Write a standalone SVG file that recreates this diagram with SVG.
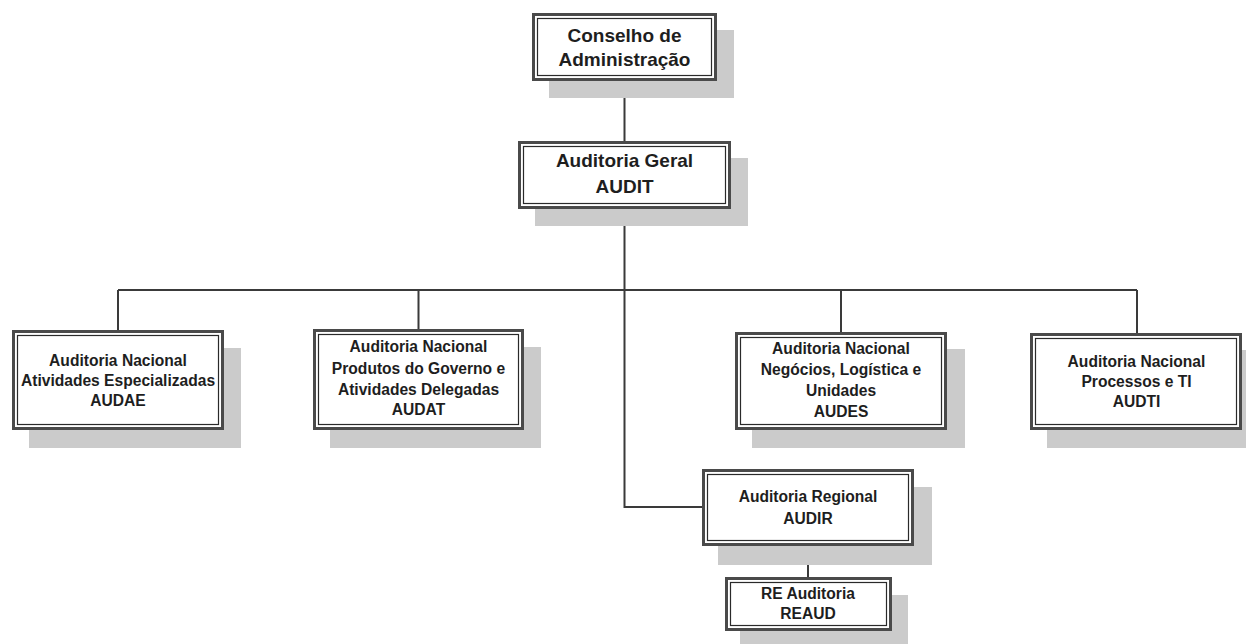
<svg xmlns="http://www.w3.org/2000/svg" width="1246" height="644" viewBox="0 0 1246 644">
<style>
.sh{fill:#cbcbcb}
.bx{fill:#fff;stroke:#4a4a4a;stroke-width:3}
.in{fill:none;stroke:#2a2a2a;stroke-width:1.2}
.t{font-family:"Liberation Sans",Arial,sans-serif;font-weight:bold;fill:#1e1e1e;text-anchor:middle}
.t19{font-size:19px}
.t16{font-size:15.6px}
.ln{fill:none;stroke:#3a3a3a;stroke-width:2}
</style>
<rect width="1246" height="644" fill="#fff"/>
<g id="connectors">
<path class="ln" d="M624.5 81V141M624.5 209V507H702M118 290H1137M118 290V330M418.5 290V329M841 290V332M1137 290V333M808 546V577"/>
</g>
<g id="conselho">
<rect class="sh" x="549" y="30" width="185" height="68"/>
<rect class="bx" x="533.5" y="14.5" width="182" height="65"/>
<rect class="in" x="537.5" y="18.5" width="174" height="57"/>
<text class="t t19" x="624.5"><tspan x="624.5" y="41.5">Conselho de</tspan><tspan x="624.5" y="65.5">Administração</tspan></text>
</g>
<g id="audit">
<rect class="sh" x="535" y="158" width="213" height="68"/>
<rect class="bx" x="519.5" y="142.5" width="210" height="65"/>
<rect class="in" x="523.5" y="146.5" width="202" height="57"/>
<text class="t t19"><tspan x="624.5" y="167">Auditoria Geral</tspan><tspan x="624.5" y="193">AUDIT</tspan></text>
</g>
<g id="audae">
<rect class="sh" x="29" y="348" width="212" height="100"/>
<rect class="bx" x="13.5" y="331.5" width="209" height="97"/>
<rect class="in" x="17.5" y="335.5" width="201" height="89"/>
<text class="t t16"><tspan x="118" y="365.5">Auditoria Nacional</tspan><tspan x="118" y="385.5">Atividades Especializadas</tspan><tspan x="118" y="405.5">AUDAE</tspan></text>
</g>
<g id="audat">
<rect class="sh" x="330" y="347" width="211" height="101"/>
<rect class="bx" x="314.5" y="330.5" width="208" height="98"/>
<rect class="in" x="318.5" y="334.5" width="200" height="90"/>
<text class="t t16"><tspan x="418.5" y="352">Auditoria Nacional</tspan><tspan x="418.5" y="373.5">Produtos do Governo e</tspan><tspan x="418.5" y="395">Atividades Delegadas</tspan><tspan x="418.5" y="415">AUDAT</tspan></text>
</g>
<g id="audes">
<rect class="sh" x="752" y="349" width="213" height="99"/>
<rect class="bx" x="736.5" y="333.5" width="209" height="95"/>
<rect class="in" x="740.5" y="337.5" width="201" height="87"/>
<text class="t t16"><tspan x="841" y="354">Auditoria Nacional</tspan><tspan x="841" y="375">Negócios, Logística e</tspan><tspan x="841" y="396">Unidades</tspan><tspan x="841" y="417">AUDES</tspan></text>
</g>
<g id="audti">
<rect class="sh" x="1047" y="350" width="212" height="98"/>
<rect class="bx" x="1031.5" y="334.5" width="209" height="94"/>
<rect class="in" x="1035.5" y="338.5" width="201" height="86"/>
<text class="t t16"><tspan x="1136.5" y="367">Auditoria Nacional</tspan><tspan x="1136.5" y="387">Processos e TI</tspan><tspan x="1136.5" y="406.5">AUDTI</tspan></text>
</g>
<g id="audir">
<rect class="sh" x="718" y="487" width="214" height="78"/>
<rect class="bx" x="703.5" y="470.5" width="209" height="74"/>
<rect class="in" x="707.5" y="474.5" width="201" height="66"/>
<text class="t t16"><tspan x="808" y="502">Auditoria Regional</tspan><tspan x="808" y="523.5">AUDIR</tspan></text>
</g>
<g id="reaud">
<rect class="sh" x="740" y="595" width="168" height="56"/>
<rect class="bx" x="726.5" y="578.5" width="164" height="51"/>
<rect class="in" x="730.5" y="582.5" width="156" height="43"/>
<text class="t t16"><tspan x="808" y="598.5">RE Auditoria</tspan><tspan x="808" y="618.5">REAUD</tspan></text>
</g>
</svg>
